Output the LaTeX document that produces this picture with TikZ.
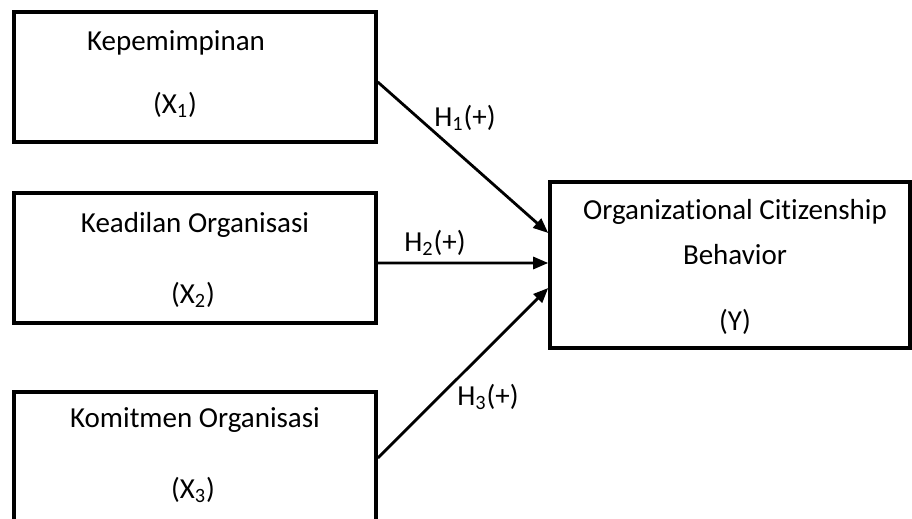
\documentclass[tikz,border=0pt]{standalone}
\usepackage{fontspec}
\setmainfont{Carlito}[RawFeature={-liga;-clig;-calt;-dlig}]
\usetikzlibrary{calc,arrows.meta}

\begin{document}
\begin{tikzpicture}[
  box/.style={draw=black, line width=2pt, minimum width=7.24cm, minimum height=2.6cm},
  txt/.style={font=\fontsize{16.5}{19}\selectfont, text=black},
  hyp/.style={font=\fontsize{16.5}{19}\selectfont, text=black},
  arr/.style={-{Triangle[length=0.3cm, width=0.24cm]}, line width=1.6pt, color=black}
]
  \useasboundingbox (0,0) rectangle (18.24,10.36);
  % Boxes
  \node[box] (x1) at (3.9, 8.82) {};
  \node[box] (x2) at (3.9, 5.2) {};
  \node[box] (x3) at (3.9, 1.22) {};
  \node[box, minimum width=7.2cm, minimum height=3.32cm] (y) at (14.6, 5.06) {};
  % Box texts
  \node[txt] at (3.52, 9.5) {Kepemimpinan};
  \node[txt] at (3.5, 8.26) {(X\textsubscript{1})};
  \node[txt] at (3.9, 5.86) {Keadilan Organisasi};
  \node[txt] at (3.86, 4.46) {(X\textsubscript{2})};
  \node[txt] at (3.9, 1.96) {Komitmen Organisasi};
  \node[txt] at (3.86, 0.56) {(X\textsubscript{3})};
  \node[txt] at (14.7, 6.12) {Organizational Citizenship};
  \node[txt] at (14.7, 5.26) {Behavior};
  \node[txt] at (14.7, 3.92) {(Y)};
  % Hypotheses
  \draw[arr] ($(x1.east)+(0,-0.1)$) -- ($(y.west)+(0,0.64)$);
  \draw[arr] ($(x2.east)+(0,-0.1)$) -- ($(y.west)+(0,0.04)$);
  \draw[arr] ($(x3.east)+(0,-0.02)$) -- ($(y.west)+(0,-0.46)$);
  \node[hyp] (h1) at (9.3, 8.0) {H\textsubscript{1}(+)};
  \node[hyp] (h2) at (8.7, 5.5) {H\textsubscript{2}(+)};
  \node[hyp] (h3) at (9.76, 2.42) {H\textsubscript{3}(+)};
\end{tikzpicture}
\end{document}
